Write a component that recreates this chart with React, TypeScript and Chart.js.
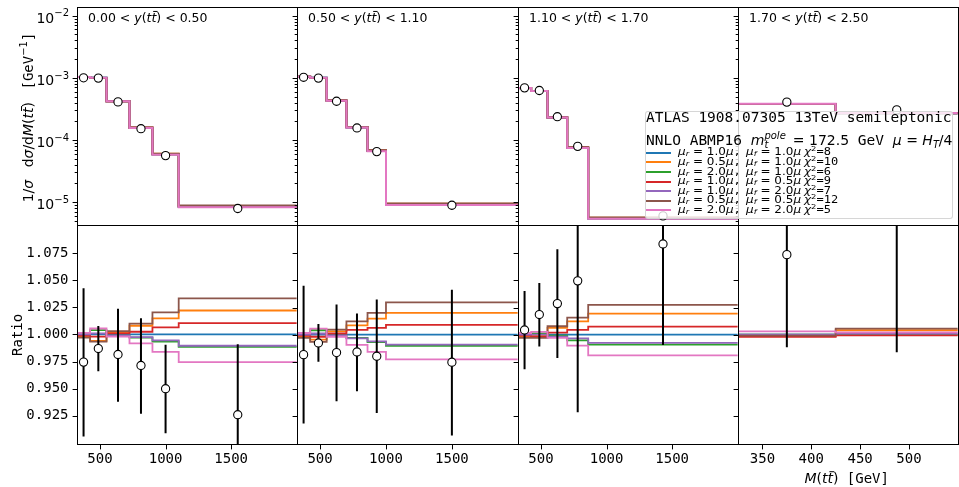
import React, { useEffect, useRef } from 'react';
import { Chart, registerables } from 'chart.js';

Chart.register(...registerables);

const SANS = "'DejaVu Sans', sans-serif";
const MONO = "'DejaVu Sans Mono', monospace";

// ---------------- data ----------------
const Y_BIN_EDGES = ['0.00', '0.50', '1.10', '1.70', '2.50'];

const SERIES_COLORS = ['#1f77b4', '#ff7f0e', '#2ca02c', '#d62728', '#9467bd', '#8c564b', '#e377c2'];
const MU_R = ['1.0', '0.5', '2.0', '1.0', '1.0', '0.5', '2.0'];
const MU_F = ['1.0', '1.0', '1.0', '0.5', '2.0', '0.5', '2.0'];
const CHI2 = [8, 10, 6, 9, 7, 12, 5];

// M(tt) bin edges [GeV] per |y(tt)| slice
const EDGES_Y0 = [325, 425, 550, 725, 900, 1100, 2000];
const EDGES_Y1 = [325, 425, 550, 700, 860, 1000, 2000];
const EDGES_Y2 = [325, 425, 550, 700, 860, 2000];
const EDGES_Y3 = [325, 425, 550];

// reference prediction (mu_r = mu_f = 1.0 mu), 1/sigma dsigma/dM [GeV^-1]
const PRED_Y0 = [1.03e-3, 1.0e-3, 4.2e-4, 1.57e-4, 5.9e-5, 8.5e-6];
const PRED_Y1 = [1.04e-3, 1.0e-3, 4.3e-4, 1.6e-4, 6.7e-5, 9.2e-6];
const PRED_Y2 = [6.85e-4, 6.15e-4, 2.3e-4, 7.5e-5, 5.5e-6];
const PRED_Y3 = [3.8e-4, 2.7e-4];

// measured data
const DATA_Y0 = [1.0e-3, 0.99e-3, 4.1e-4, 1.52e-4, 5.6e-5, 7.9e-6];
const DATA_Y1 = [1.02e-3, 0.99e-3, 4.2e-4, 1.56e-4, 6.5e-5, 8.9e-6];
const DATA_Y2 = [6.9e-4, 6.25e-4, 2.37e-4, 7.9e-5, 6.0e-6];
const DATA_Y3 = [4.07e-4, 3.05e-4];

// prediction / reference, series order: blue, orange, green, red, purple, brown, pink
const RATIO_Y0 = [
  [1, 1, 1, 1, 1, 1],
  [0.998, 0.994, 1.002, 1.008, 1.0148, 1.0221],
  [1.0, 1.004, 0.999, 0.997, 0.9935, 0.9886],
  [0.999, 0.998, 1.001, 1.0025, 1.0065, 1.0104],
  [1.0, 1.001, 0.999, 0.9975, 0.9945, 0.9896],
  [0.997, 0.9933, 1.003, 1.0099, 1.0203, 1.0332],
  [1.0015, 1.0055, 0.998, 0.9917, 0.984, 0.9745],
];
const RATIO_Y1 = [
  [1, 1, 1, 1, 1, 1],
  [0.998, 0.9954, 1.003, 1.0086, 1.0148, 1.02],
  [1.0, 1.004, 0.999, 0.997, 0.993, 0.9896],
  [0.999, 0.998, 1.001, 1.0043, 1.0062, 1.009],
  [1.0, 1.001, 0.999, 0.9966, 0.9938, 0.9908],
  [0.997, 0.9933, 1.0046, 1.0123, 1.02, 1.0298],
  [1.0015, 1.0055, 0.998, 0.9905, 0.984, 0.9772],
];
const RATIO_Y2 = [
  [1, 1, 1, 1, 1],
  [0.998, 0.999, 1.0062, 1.0123, 1.0194],
  [1.0, 1.001, 0.999, 0.9947, 0.9908],
  [0.999, 0.998, 1.0018, 1.0043, 1.0074],
  [1.0, 1.0, 0.998, 0.9966, 0.9923],
  [0.997, 0.997, 1.0077, 1.0157, 1.0274],
  [1.0015, 1.0025, 0.997, 0.9898, 0.9809],
];
const RATIO_Y3 = [
  [1, 1],
  [0.999, 1.004],
  [1.0, 1.0],
  [0.998, 0.9993],
  [1.0, 1.001],
  [0.999, 1.0055],
  [1.003, 1.002],
];

// data / reference with error bars
const DATA_RATIO_Y0 = [0.9745, 0.987, 0.9815, 0.9714, 0.95, 0.926];
const ERR_LO_Y0 = [0.906, 0.966, 0.938, 0.927, 0.909, 0.861];
const ERR_HI_Y0 = [1.0425, 1.0077, 1.0237, 1.015, 0.9905, 0.991];
const DATA_RATIO_Y1 = [0.9815, 0.9923, 0.9834, 0.984, 0.98, 0.9745];
const ERR_LO_Y1 = [0.918, 0.975, 0.9384, 0.9477, 0.9277, 0.9068];
const ERR_HI_Y1 = [1.045, 1.0099, 1.0277, 1.0194, 1.0323, 1.0415];
const DATA_RATIO_Y2 = [1.0043, 1.0185, 1.0286, 1.0496, 1.0837];
const ERR_LO_Y2 = [0.968, 0.989, 0.9785, 0.9283, 0.9905];
const ERR_HI_Y2 = [1.0403, 1.0477, 1.0787, 1.17, 1.18];
const DATA_RATIO_Y3 = [1.0738, 1.13];
const ERR_LO_Y3 = [0.9883, 0.9837];
const ERR_HI_Y3 = [1.16, 1.28];

// axes
const X_MIN = 325;
const X_MAX = [2000, 2000, 2000, 550];
const X_TICKS_WIDE = [500, 1000, 1500];
const X_TICKS_NARROW = [350, 400, 450, 500];
const LOG_EXPONENTS = [-5, -4, -3, -2];
const TOP_MIN = 4.315e-6;
const TOP_MAX = 1.38e-2;
const RATIO_TICKS = [0.925, 0.95, 0.975, 1.0, 1.025, 1.05, 1.075];
const RATIO_MIN = 0.899;
const RATIO_MAX = 1.101;

const EDGES = [EDGES_Y0, EDGES_Y1, EDGES_Y2, EDGES_Y3];
const PRED = [PRED_Y0, PRED_Y1, PRED_Y2, PRED_Y3];
const DATA = [DATA_Y0, DATA_Y1, DATA_Y2, DATA_Y3];
const RATIO = [RATIO_Y0, RATIO_Y1, RATIO_Y2, RATIO_Y3];
const DATA_RATIO = [DATA_RATIO_Y0, DATA_RATIO_Y1, DATA_RATIO_Y2, DATA_RATIO_Y3];
const ERR_LO = [ERR_LO_Y0, ERR_LO_Y1, ERR_LO_Y2, ERR_LO_Y3];
const ERR_HI = [ERR_HI_Y0, ERR_HI_Y1, ERR_HI_Y2, ERR_HI_Y3];

// ---------------- layout (page pixels) ----------------
const COL_L = [77, 297, 518, 738];
const COL_R = [297, 518, 738, 958];
const ROW_T = [7, 225];
const ROW_B = [225, 444];

type Panel = {
  col: number; row: number;
  left: number; top: number; width: number; height: number;
  AL: number; PT: number; AB: number; PR: number;
};

const PANELS: Panel[] = [];
for (let row = 0; row < 2; row++) {
  for (let col = 0; col < 4; col++) {
    const AL = col === 0 ? 77 : 12;
    const PR = 2;
    const PT = row === 0 ? 7 : 4;
    const AB = row === 0 ? 4 : 43;
    PANELS.push({
      col, row, AL, PR, PT, AB,
      left: COL_L[col] - AL,
      top: ROW_T[row] - PT,
      width: AL + (COL_R[col] - COL_L[col]) + PR,
      height: PT + (ROW_B[row] - ROW_T[row]) + AB,
    });
  }
}

// ---------------- text helpers ----------------
type Run = { t: string; f: string; dy?: number; bar?: boolean; gap?: number };
const F_RM = `14px ${SANS}`;
const F_IT = `italic 14px ${SANS}`;
const F_MONO = `14px ${MONO}`;
const F_SUP = `10px ${SANS}`;
const F_T_RM = `12.5px ${SANS}`;
const F_T_IT = `italic 12.5px ${SANS}`;

function runAdvance(ctx: CanvasRenderingContext2D, r: Run) {
  ctx.font = r.f;
  return ctx.measureText(r.t).width + (r.gap || 0);
}

function runsWidth(ctx: CanvasRenderingContext2D, runs: Run[]) {
  let w = 0;
  for (const r of runs) w += runAdvance(ctx, r);
  return w;
}

function drawRuns(ctx: CanvasRenderingContext2D, runs: Run[], x: number, y: number) {
  ctx.textAlign = 'left';
  ctx.textBaseline = 'alphabetic';
  ctx.fillStyle = '#000';
  let cx = x;
  for (const r of runs) {
    ctx.font = r.f;
    const w = ctx.measureText(r.t).width;
    ctx.fillText(r.t, cx, y + (r.dy || 0));
    if (r.bar) {
      const size = parseFloat(r.f.replace('italic ', ''));
      ctx.save();
      ctx.strokeStyle = '#000';
      ctx.lineWidth = 1;
      const by = y + (r.dy || 0) - size * 0.82;
      ctx.beginPath();
      ctx.moveTo(cx + size * 0.14, by);
      ctx.lineTo(cx + w + size * 0.1, by);
      ctx.stroke();
      ctx.restore();
    }
    cx += w + (r.gap || 0);
  }
}

function histPoints(edges: number[], vals: number[]) {
  const pts: { x: number; y: number }[] = [];
  vals.forEach((v, i) => {
    pts.push({ x: edges[i], y: v });
    pts.push({ x: edges[i + 1], y: v });
  });
  return pts;
}

function makeDecor(p: Panel) {
  const { col, row } = p;
  return {
    id: 'decor' + col + row,
    beforeDatasetDraw(chart: any, args: any) {
      if (row !== 1 || args.index !== 0) return;
      const ctx: CanvasRenderingContext2D = chart.ctx;
      const ca = chart.chartArea;
      const xs = chart.scales.x;
      const ys = chart.scales.y;
      const edges = EDGES[col];
      ctx.save();
      ctx.beginPath();
      ctx.rect(ca.left, ca.top, ca.right - ca.left, ca.bottom - ca.top);
      ctx.clip();
      ctx.strokeStyle = '#000';
      ctx.lineWidth = 2;
      DATA_RATIO[col].forEach((_v, i) => {
        const x = xs.getPixelForValue((edges[i] + edges[i + 1]) / 2);
        ctx.beginPath();
        ctx.moveTo(x, ys.getPixelForValue(ERR_LO[col][i]));
        ctx.lineTo(x, ys.getPixelForValue(ERR_HI[col][i]));
        ctx.stroke();
      });
      ctx.restore();
    },
    afterDraw(chart: any) {
      const ctx: CanvasRenderingContext2D = chart.ctx;
      const ca = chart.chartArea;
      const xs = chart.scales.x;
      const ys = chart.scales.y;
      const ox = ca.left - COL_L[col];
      const oy = ca.top - ROW_T[row];
      const L = Math.round(ca.left) + 0.5;
      const R = Math.round(ca.right) + 0.5;
      const T = Math.round(ca.top) + 0.5;
      const B = Math.round(ca.bottom) + 0.5;
      ctx.save();
      ctx.strokeStyle = '#000';
      ctx.lineWidth = 1;
      const tick = (y: number, len: number) => {
        const yy = Math.round(y) + 0.5;
        ctx.beginPath();
        ctx.moveTo(L - len, yy);
        ctx.lineTo(L, yy);
        ctx.stroke();
      };
      if (row === 0) {
        for (let e = -6; e <= -2; e++) {
          for (let k = 1; k <= 9; k++) {
            const v = k * Math.pow(10, e);
            if (v < TOP_MIN || v > TOP_MAX) continue;
            tick(ys.getPixelForValue(v), k === 1 ? 4.9 : 2.8);
          }
        }
      } else {
        RATIO_TICKS.forEach((v) => tick(ys.getPixelForValue(v), 4.9));
        (col === 3 ? X_TICKS_NARROW : X_TICKS_WIDE).forEach((v) => {
          const xx = Math.round(xs.getPixelForValue(v)) + 0.5;
          ctx.beginPath();
          ctx.moveTo(xx, B);
          ctx.lineTo(xx, B + 4.9);
          ctx.stroke();
        });
      }
      ctx.strokeRect(L, T, R - L, B - T);
      ctx.restore();

      ctx.save();
      if (row === 0) {
        const runs: Run[] = [
          { t: Y_BIN_EDGES[col], f: F_T_RM },
          { t: ' < ', f: F_T_RM },
          { t: 'y', f: F_T_IT },
          { t: '(', f: F_T_RM },
          { t: 't', f: F_T_IT },
          { t: 't', f: F_T_IT, bar: true },
          { t: ')', f: F_T_RM },
          { t: ' < ', f: F_T_RM },
          { t: Y_BIN_EDGES[col + 1], f: F_T_RM },
        ];
        drawRuns(ctx, runs, ca.left + 11, ca.top + 14.7);
      }
      if (row === 0 && col === 0) {
        LOG_EXPONENTS.forEach((e) => {
          const y = ys.getPixelForValue(Math.pow(10, e));
          const sup = '\u2212' + Math.abs(e);
          ctx.font = F_SUP;
          const sw = ctx.measureText(sup).width;
          ctx.font = F_RM;
          const bw = ctx.measureText('10').width;
          const x0 = ca.left - 8 - sw - bw;
          drawRuns(ctx, [{ t: '10', f: F_RM }, { t: sup, f: F_SUP, dy: -6.2 }], x0, y + 7);
        });
        const runs: Run[] = [
          { t: '1/', f: F_RM },
          { t: '\u03c3', f: F_IT, gap: 12.5 },
          { t: 'd', f: F_RM },
          { t: '\u03c3', f: F_IT },
          { t: '/d', f: F_RM },
          { t: 'M', f: F_IT },
          { t: '(', f: F_RM },
          { t: 't', f: F_IT },
          { t: 't', f: F_IT, bar: true },
          { t: ')', f: F_RM, gap: 12.5 },
          { t: '[GeV', f: F_MONO },
          { t: '\u22121', f: F_SUP, dy: -6 },
          { t: ']', f: F_MONO },
        ];
        const w = runsWidth(ctx, runs);
        ctx.translate(33 + ox, 117.5 + oy);
        ctx.rotate(-Math.PI / 2);
        drawRuns(ctx, runs, -w / 2, 0);
      }
      if (row === 1 && col === 0) {
        const runs: Run[] = [{ t: 'Ratio', f: F_MONO }];
        const w = runsWidth(ctx, runs);
        ctx.translate(21.5 + ox, 335 + oy);
        ctx.rotate(-Math.PI / 2);
        drawRuns(ctx, runs, -w / 2, 0);
      }
      if (row === 1 && col === 3) {
        const runs: Run[] = [
          { t: 'M', f: F_IT },
          { t: '(', f: F_RM },
          { t: 't', f: F_IT },
          { t: 't', f: F_IT, bar: true },
          { t: ')', f: F_RM },
          { t: ' [GeV]', f: F_MONO },
        ];
        const w = runsWidth(ctx, runs);
        drawRuns(ctx, runs, 846.7 + ox - w / 2, 483 + oy);
      }
      ctx.restore();
    },
  };
}

function buildConfig(p: Panel): any {
  const { col, row } = p;
  const edges = EDGES[col];
  const centers = edges.slice(0, -1).map((e, i) => (e + edges[i + 1]) / 2);
  const ptsVals = row === 0 ? DATA[col] : DATA_RATIO[col];
  const datasets: any[] = [
    {
      label: 'data',
      data: ptsVals.map((v, i) => ({ x: centers[i], y: v })),
      showLine: false,
      pointRadius: 4.1,
      pointBackgroundColor: '#ffffff',
      pointBorderColor: '#000000',
      pointBorderWidth: 1.1,
      order: 0,
    },
  ];
  SERIES_COLORS.forEach((c, s) => {
    const vals = row === 0 ? PRED[col].map((v, i) => v * RATIO[col][s][i]) : RATIO[col][s];
    datasets.push({
      label: 's' + s,
      data: histPoints(edges, vals),
      borderColor: c,
      backgroundColor: c,
      borderWidth: row === 0 ? 2 : 1.8,
      pointRadius: 0,
      fill: false,
      tension: 0,
      borderJoinStyle: 'miter',
      order: 7 - s,
    });
  });

  const yScale =
    row === 0
      ? {
          type: 'logarithmic',
          min: TOP_MIN,
          max: TOP_MAX,
          bounds: 'data',
          afterBuildTicks: (s: any) => {
            s.ticks = LOG_EXPONENTS.map((e) => ({ value: Math.pow(10, e) }));
          },
          afterFit: (s: any) => {
            s.width = p.AL;
          },
          grid: { display: false },
          border: { display: false },
          ticks: { display: false },
        }
      : {
          type: 'linear',
          min: RATIO_MIN,
          max: RATIO_MAX,
          bounds: 'data',
          afterBuildTicks: (s: any) => {
            s.ticks = RATIO_TICKS.map((v) => ({ value: v }));
          },
          afterFit: (s: any) => {
            s.width = p.AL;
          },
          grid: { display: true, drawOnChartArea: false, drawTicks: true, tickLength: 4, tickColor: 'rgba(0,0,0,0)' },
          border: { display: false },
          ticks: {
            display: col === 0,
            padding: 4.5,
            color: '#000',
            font: { family: MONO, size: 14 },
            callback: (v: any) => Number(v).toFixed(3),
          },
        };

  return {
    type: 'line',
    data: { datasets },
    options: {
      animation: false,
      responsive: false,
      maintainAspectRatio: false,
      devicePixelRatio: 1,
      events: [],
      layout: { padding: { left: 0, right: p.PR, top: p.PT, bottom: 0 } },
      plugins: { legend: { display: false }, tooltip: { enabled: false } },
      scales: {
        x: {
          type: 'linear',
          min: X_MIN,
          max: X_MAX[col],
          bounds: 'data',
          afterBuildTicks: (s: any) => {
            s.ticks = (col === 3 ? X_TICKS_NARROW : X_TICKS_WIDE).map((v) => ({ value: v }));
          },
          afterFit: (s: any) => {
            s.height = p.AB;
          },
          grid: { display: true, drawOnChartArea: false, drawTicks: true, tickLength: 4, tickColor: 'rgba(0,0,0,0)' },
          border: { display: false },
          ticks: {
            display: row === 1,
            padding: 3,
            autoSkip: false,
            maxRotation: 0,
            color: '#000',
            font: { family: MONO, size: 14 },
            callback: (v: any) => String(v),
          },
        },
        y: yScale,
      },
    },
    plugins: [makeDecor(p)],
  };
}

// create the chart and adjust the canvas so that the plot area lands exactly on the panel box
function createPanelChart(canvas: HTMLCanvasElement, p: Panel) {
  const W = COL_R[p.col] - COL_L[p.col];
  const H = ROW_B[p.row] - ROW_T[p.row];
  let w = p.width;
  let h = p.height;
  let chart: any = null;
  for (let k = 0; k < 4; k++) {
    canvas.width = w;
    canvas.height = h;
    canvas.style.width = w + 'px';
    canvas.style.height = h + 'px';
    chart = new Chart(canvas, buildConfig(p));
    const ca = chart.chartArea;
    const dw = Math.round(W - (ca.right - ca.left));
    const dh = Math.round(H - (ca.bottom - ca.top));
    if (dw === 0 && dh === 0) break;
    chart.destroy();
    chart = null;
    w += dw;
    h += dh;
    if (k === 3) {
      canvas.width = w;
      canvas.height = h;
      canvas.style.width = w + 'px';
      canvas.style.height = h + 'px';
      chart = new Chart(canvas, buildConfig(p));
    }
  }
  const ca = chart.chartArea;
  canvas.style.left = COL_L[p.col] - Math.round(ca.left) + 'px';
  canvas.style.top = ROW_T[p.row] - Math.round(ca.top) + 'px';
  return chart;
}

// ---------------- legend (HTML) ----------------
const LEG_ROW_Y0 = 152.7;
const LEG_ROW_DY = 9.6;

function Sub({ children }: { children: React.ReactNode }) {
  return (
    <span style={{ fontSize: '0.7em', fontStyle: 'italic', position: 'relative', top: '0.28em' }}>{children}</span>
  );
}
function Sup({ children }: { children: React.ReactNode }) {
  return <span style={{ fontSize: '0.7em', position: 'relative', top: '-0.45em' }}>{children}</span>;
}

function Legend() {
  const entryStyle = (x: number, y: number): React.CSSProperties => ({
    position: 'absolute',
    left: x,
    top: y - 8.4,
    font: `12.5px ${SANS}`,
    lineHeight: '14px',
    whiteSpace: 'pre',
    transform: 'scale(0.96, 0.88)',
    transformOrigin: '0 50%',
    color: '#000',
  });
  return (
    <>
      <div
        style={{
          position: 'absolute',
          left: 645,
          top: 111,
          width: 308,
          height: 108,
          boxSizing: 'border-box',
          background: 'rgba(255,255,255,0.8)',
          border: '1px solid rgba(204,204,204,0.8)',
          borderRadius: 3,
        }}
      />
      <div
        style={{
          position: 'absolute',
          left: 646,
          top: 110.4,
          font: `14.5px ${MONO}`,
          lineHeight: '14px',
          whiteSpace: 'pre',
          color: '#000',
        }}
      >
        ATLAS 1908.07305 13TeV semileptonic
      </div>
      <div
        style={{
          position: 'absolute',
          left: 646,
          top: 132.8,
          font: `14.5px ${MONO}`,
          lineHeight: '14px',
          whiteSpace: 'pre',
          color: '#000',
        }}
      >
        {'NNLO ABMP16 '}
        <span style={{ fontFamily: SANS, fontSize: 14 }}>
          <i>m</i>
          <span style={{ display: 'inline-block', position: 'relative', width: 24, height: 1 }}>
            <span style={{ position: 'absolute', left: 0, bottom: 4, fontSize: 10, fontStyle: 'italic', lineHeight: '10px' }}>pole</span>
            <span style={{ position: 'absolute', left: 0, bottom: -5, fontSize: 10, fontStyle: 'italic', lineHeight: '10px' }}>t</span>
          </span>
          {' = 172.5'}
        </span>
        {' GeV '}
        <span style={{ fontFamily: SANS, fontSize: 14 }}>
          <i>{'\u03bc'}</i>
          {' = '}
          <i>H</i>
          <Sub>T</Sub>
          {'/4'}
        </span>
      </div>
      {SERIES_COLORS.map((c, i) => {
        const y = LEG_ROW_Y0 + LEG_ROW_DY * i;
        return (
          <React.Fragment key={i}>
            <div style={{ position: 'absolute', left: 646, top: y - 1, width: 25, height: 2, background: c }} />
            <div style={entryStyle(677.7, y)}>
              <i>{'\u03bc'}</i>
              <Sub>r</Sub>
              {' = ' + MU_R[i]}
              <i>{'\u03bc'}</i>
              <span style={{ fontFamily: MONO }}>,</span>
            </div>
            <div style={entryStyle(746, y)}>
              <i>{'\u03bc'}</i>
              <Sub>f</Sub>
              {' = ' + MU_F[i]}
              <i>{'\u03bc'}</i>
            </div>
            <div style={entryStyle(804, y)}>
              <i>{'\u03c7'}</i>
              <Sup>2</Sup>
              <span style={{ fontFamily: MONO }}>{'=' + CHI2[i]}</span>
            </div>
          </React.Fragment>
        );
      })}
    </>
  );
}

export default function App() {
  const refs = useRef<(HTMLCanvasElement | null)[]>([]);
  useEffect(() => {
    const charts = PANELS.map((p, i) => createPanelChart(refs.current[i] as HTMLCanvasElement, p));
    return () => charts.forEach((c) => c && c.destroy());
  }, []);
  return (
    <div style={{ position: 'fixed', left: 0, top: 0, width: 959, height: 487, background: '#fff', overflow: 'hidden' }}>
      {PANELS.map((p, i) => (
        <canvas
          key={i}
          ref={(el) => {
            refs.current[i] = el;
          }}
          width={p.width}
          height={p.height}
          style={{ position: 'absolute', left: p.left, top: p.top, width: p.width, height: p.height }}
        />
      ))}
      <Legend />
    </div>
  );
}
